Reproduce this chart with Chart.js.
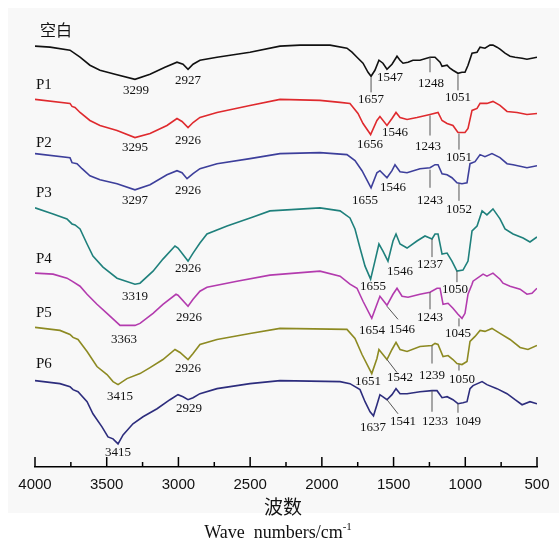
<!DOCTYPE html>
<html><head><meta charset="utf-8">
<script src="https://cdn.jsdelivr.net/npm/chart.js@4.4.0/dist/chart.umd.min.js"></script>
<style>html,body{margin:0;padding:0;background:#fff}</style>
</head><body>
<canvas id="c" width="559" height="545"></canvas>
<script>
// ---- data (wavenumber in cm^-1, offset transmittance in arbitrary units) ----
const seriesNames = ['空白','P1','P2','P3','P4','P5','P6'];
const seriesColors = ['#111111','#df2a2e','#3d3f9b','#1f807c','#b33bae','#8d8a22','#2d2d7d'];

const blankWn = [4000,3895,3756,3686,3617,3547,3442,3303,3198,3094,3010,2968,2933,2898,2850,2731,2501,2292,2152,1943,1825,1790,1755,1713,1678,1657,1630,1602,1574,1546,1511,1476,1455,1434,1399,1365,1316,1246,1211,1176,1162,1127,1107,1086,1051,1023,1002,981,953,918,897,863,828,807,779,758,723,688,653,604,570,535,500];
const blankT  = [416,415,412,405,397,392,388,383,388,395,400,398,393,398,402,405,410,416,417,417,414,410,405,399,390,386,392,402,399,393,398,406,402,399,400,402,402,405,405,400,396,397,394,392,389,390,390,397,409,410,415,414,417,417,415,413,409,406,405,404,403,404,405];

const p1Wn = [4000,3756,3742,3721,3686,3617,3547,3428,3303,3198,3080,3010,2975,2933,2898,2850,2731,2501,2292,2013,1873,1804,1748,1713,1660,1616,1595,1546,1511,1483,1455,1406,1337,1246,1190,1162,1127,1086,1051,1002,981,953,918,897,849,807,758,709,639,570,500];
const p1T  = [363,359,356,355,350,342,337,332,325,329,337,344,341,335,340,345,350,357,363,362,360,359,349,339,328,342,346,337,344,350,345,343,345,348,350,342,339,337,330,330,334,352,354,359,359,361,357,351,350,348,349];

const p2Wn = [4000,3756,3742,3707,3672,3617,3547,3428,3303,3198,3080,3010,2975,2940,2898,2850,2731,2501,2292,2013,1825,1769,1720,1657,1616,1595,1546,1511,1490,1455,1406,1316,1246,1211,1190,1162,1127,1093,1058,1023,988,967,932,897,863,814,758,709,667,570,500];
const p2T  = [309,305,300,299,294,287,283,279,273,278,288,292,290,284,289,294,299,304,309,310,308,302,292,275,290,292,285,292,298,291,290,294,295,298,298,289,288,285,280,279,280,299,301,308,306,309,305,299,298,295,297];

const p3Wn = [4000,3874,3777,3742,3721,3686,3637,3596,3526,3428,3303,3268,3177,3108,3024,3003,2933,2898,2850,2801,2661,2480,2362,2243,2013,1873,1804,1769,1734,1699,1660,1630,1602,1574,1539,1504,1483,1455,1406,1337,1281,1232,1211,1190,1162,1127,1093,1058,1016,981,953,918,883,849,807,758,723,667,597,549,500];
const p3T  = [255,249,244,239,238,234,219,207,196,185,179,180,192,204,217,215,202,210,220,229,237,246,252,253,255,252,245,234,215,197,184,202,219,212,202,222,229,219,215,222,227,224,229,229,209,210,202,192,193,202,232,237,252,248,254,244,234,229,225,221,226];

const p4Wn = [4000,3874,3777,3742,3686,3637,3568,3498,3407,3303,3268,3177,3108,3017,3003,2933,2898,2850,2801,2592,2362,2013,1873,1804,1755,1713,1652,1616,1595,1546,1504,1476,1441,1399,1316,1246,1197,1176,1155,1120,1086,1051,1023,1002,981,953,946,876,849,807,758,737,688,618,570,535,500];
const p4T  = [190,189,185,182,177,169,159,150,138,138,140,150,159,169,168,157,164,172,176,182,188,192,187,179,175,162,145,159,167,158,169,175,167,166,169,171,175,175,159,160,155,149,145,150,169,179,182,189,187,190,184,180,177,174,169,170,175];

const p5Wn = [4000,3826,3756,3735,3700,3637,3568,3498,3456,3421,3359,3268,3198,3108,3024,2989,2933,2898,2850,2731,2501,2292,1825,1769,1720,1652,1616,1602,1546,1511,1483,1455,1406,1316,1232,1211,1190,1155,1120,1086,1058,1023,988,967,932,897,863,814,758,688,618,563,500];
const p5T  = [136,133,129,126,124,112,97,89,82,79,85,90,96,104,114,111,104,110,119,124,130,135,134,125,109,90,105,114,104,114,121,114,112,117,118,120,119,107,108,104,100,99,102,122,127,133,132,135,130,124,116,114,118];

const p6Wn = [4000,3826,3756,3735,3700,3637,3596,3533,3491,3456,3421,3386,3317,3247,3149,3059,3003,2968,2933,2898,2850,2731,2501,2292,1873,1804,1734,1699,1664,1640,1616,1595,1546,1511,1483,1455,1406,1316,1232,1197,1162,1127,1086,1051,1016,988,967,946,883,849,779,709,653,604,549,500];
const p6T  = [83,80,77,74,72,62,50,37,27,25,20,29,40,47,55,64,69,67,64,66,70,75,80,83,82,80,74,62,52,48,59,69,64,69,75,70,70,72,73,73,66,67,64,60,61,62,75,78,82,79,75,70,64,59,62,60];

const seriesWn = [blankWn,p1Wn,p2Wn,p3Wn,p4Wn,p5Wn,p6Wn];
const seriesT  = [blankT,p1T,p2T,p3T,p4T,p5T,p6T];

// series name labels (left of curves)
const nameWn = [3965,3993,3993,3993,3993,3993,3993];
const nameT  = [432,377,320,270,204,150,99];

// peak labels: text, wavenumber, value
const peakText = ['3299','2927','1657','1547','1248','1051',
                  '3295','2926','1656','1546','1243','1051',
                  '3297','2926','1655','1546','1243','1052',
                  '3319','2926','1655','1546','1237','1050',
                  '3363','2926','1654','1546','1243','1045',
                  '3415','2926','1651','1542','1239','1050',
                  '3415','2929','1637','1541','1233','1049'];
const peakWn = [3296,2933,1657,1525,1239,1051,
                3303,2933,1664,1490,1260,1044,
                3303,2933,1699,1504,1246,1044,
                3303,2933,1643,1455,1246,1072,
                3380,2926,1650,1441,1246,1051,
                3407,2933,1678,1455,1232,1023,
                3421,2926,1643,1434,1211,981];
const peakT  = [372,382,363,385,379,365,
                315,322,318,330,316,305,
                262,272,262,275,262,253,
                167,195,177,192,199,174,
                124,146,133,134,146,130,
                67,95,82,86,88,84,
                11,55,36,42,42,42];

// leader lines: wn1, t1, wn2, t2
const leadWn1 = [1657,1246,1051, 1246,1044, 1246,1044, 1232,1058, 1546,1246,1044, 1546,1232,1044, 1546,1232,1051];
const leadT1  = [385,405,388, 347,329, 293,279, 224,192, 157,171,145, 104,118,99, 64,73,60];
const leadWn2 = [1657,1246,1051, 1246,1044, 1246,1044, 1232,1058, 1469,1246,1044, 1476,1232,1044, 1469,1232,1051];
const leadT2  = [370,390,372, 327,313, 275,262, 206,181, 144,154,137, 91,100,93, 50,52,51];

// axis ticks
const majorTicks = [4000,3500,3000,2500,2000,1500,1000,500];
const minorTicks = [3750,3250,2750,2250,1750,1250,750];
const xTitleCN = '波数';
const xTitleEN = 'Wave  numbers/cm';
const xTitleSup = '-1';

const SERIF = '"Liberation Serif","Times New Roman",serif';

const deco = {
  id: 'deco',
  beforeDraw(chart) {
    const c = chart.ctx;
    c.save();
    c.fillStyle = '#ffffff';
    c.fillRect(0, 0, chart.width, chart.height);
    c.fillStyle = '#f8f8f8';
    c.fillRect(8, 8, chart.width - 8, 505);
    c.restore();
  },
  afterDraw(chart) {
    const c = chart.ctx, xs = chart.scales.x, ys = chart.scales.y, ca = chart.chartArea;
    c.save();
    // ticks pointing up
    c.strokeStyle = '#000'; c.lineWidth = 1.5;
    c.beginPath();
    majorTicks.forEach(v => { const x = xs.getPixelForValue(v); c.moveTo(x, ca.bottom); c.lineTo(x, ca.bottom - 10); });
    minorTicks.forEach(v => { const x = xs.getPixelForValue(v); c.moveTo(x, ca.bottom); c.lineTo(x, ca.bottom - 5); });
    c.stroke();
    // leader lines
    c.strokeStyle = '#555'; c.lineWidth = 1;
    c.beginPath();
    for (let i = 0; i < leadWn1.length; i++) {
      c.moveTo(xs.getPixelForValue(leadWn1[i]), ys.getPixelForValue(leadT1[i]));
      c.lineTo(xs.getPixelForValue(leadWn2[i]), ys.getPixelForValue(leadT2[i]));
    }
    c.stroke();
    // peak labels
    c.fillStyle = '#111';
    c.font = '13px ' + SERIF;
    c.textAlign = 'center'; c.textBaseline = 'middle';
    for (let i = 0; i < peakText.length; i++) {
      c.fillText(peakText[i], xs.getPixelForValue(peakWn[i]), ys.getPixelForValue(peakT[i]));
    }
    // series names
    c.textAlign = 'left';
    for (let i = 0; i < seriesNames.length; i++) {
      c.font = i === 0 ? '16px "Noto Sans CJK SC",sans-serif' : '15px ' + SERIF;
      c.fillText(seriesNames[i], xs.getPixelForValue(nameWn[i]), ys.getPixelForValue(nameT[i]));
    }
    // axis titles
    const cx = (ca.left + ca.right) / 2;
    c.textAlign = 'center';
    c.font = '19px "Noto Sans CJK SC",sans-serif';
    c.fillText(xTitleCN, cx - 3, ca.bottom + 40);
    c.font = '18px ' + SERIF;
    const w1 = c.measureText(xTitleEN).width;
    c.font = '11px ' + SERIF;
    const w2 = c.measureText(xTitleSup).width;
    const left = cx - 8 - (w1 + w2) / 2;
    c.textAlign = 'left';
    c.font = '18px ' + SERIF;
    c.fillText(xTitleEN, left, ca.bottom + 66);
    c.font = '11px ' + SERIF;
    c.fillText(xTitleSup, left + w1, ca.bottom + 60);
    c.restore();
  }
};

new Chart(document.getElementById('c'), {
  type: 'line',
  data: {
    datasets: seriesNames.map((n, i) => ({
      label: n,
      data: seriesWn[i].map((w, j) => ({ x: w, y: seriesT[i][j] })),
      borderColor: seriesColors[i],
      borderWidth: 1.6,
      pointRadius: 0,
      tension: 0,
      fill: false
    }))
  },
  options: {
    responsive: false,
    devicePixelRatio: 1,
    animation: false,
    layout: { padding: { left: 35, right: 22, top: 10, bottom: 42 } },
    scales: {
      x: {
        type: 'linear', reverse: true, min: 500, max: 4000,
        ticks: { stepSize: 500, padding: 9, autoSkip: false, maxRotation: 0, color: '#111',
                 font: { family: '"Liberation Sans",Arial,sans-serif', size: 15 },
                 callback: v => String(v) },
        grid: { display: false, drawTicks: false },
        border: { display: true, color: '#000', width: 1.5 }
      },
      y: { display: false, min: -3, max: 452 }
    },
    plugins: { legend: { display: false }, tooltip: { enabled: false } }
  },
  plugins: [deco]
});
</script>
</body></html>
